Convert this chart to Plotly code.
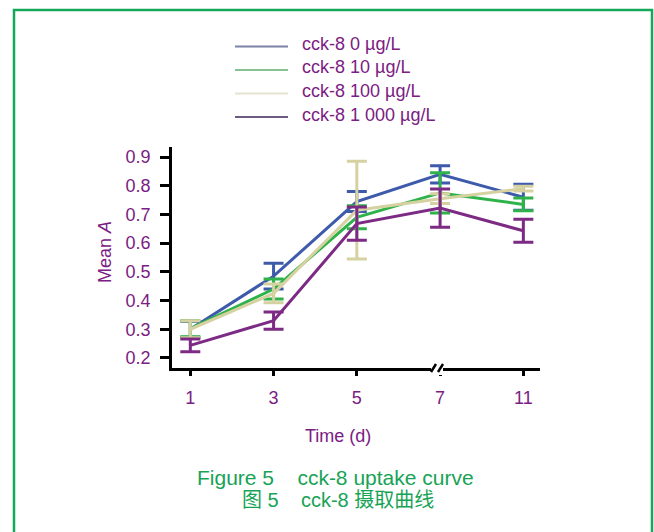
import plotly.graph_objects as go

# ---- data ----
days = ["1", "3", "5", "7", "11"]
series_names = ["cck-8 0 µg/L", "cck-8 10 µg/L", "cck-8 100 µg/L", "cck-8 1 000 µg/L"]
mean_0 = [0.300, 0.485, 0.745, 0.840, 0.760]
err_0 = [0.028, 0.045, 0.035, 0.030, 0.045]
mean_10 = [0.302, 0.440, 0.690, 0.775, 0.735]
err_10 = [0.028, 0.035, 0.040, 0.070, 0.022]
mean_100 = [0.300, 0.425, 0.715, 0.755, 0.790]
err_100 = [0.030, 0.033, 0.170, 0.017, 0.008]
mean_1000 = [0.244, 0.330, 0.668, 0.722, 0.643]
err_1000 = [0.022, 0.030, 0.058, 0.067, 0.040]
y_ticks = [0.2, 0.3, 0.4, 0.5, 0.6, 0.7, 0.8, 0.9]

means = [mean_0, mean_10, mean_100, mean_1000]
errs = [err_0, err_10, err_100, err_1000]
colors = ["#3d5aab", "#2fb24a", "#d6d1a0", "#7c2a84"]
legend_colors = ["#7d82a8", "#86c291", "#e6e3cf", "#6e5a7c"]

TXT = "#7b2082"
CAP = "#17a356"
FONT = "Liberation Sans, Arial, sans-serif"

W, H = 654, 532
L, R, T, B = 172, 540, 147, 368


def px_x(px):
    return (px - L) / (R - L)


def px_y(py):
    return (B - py) / (B - T)


fig = go.Figure()
for name, m, e, c in zip(series_names, means, errs, colors):
    fig.add_trace(go.Scatter(
        x=days, y=m, name=name, mode="lines",
        line=dict(color=c, width=3),
        error_y=dict(type="data", array=e, visible=True, color=c, thickness=3, width=10),
        showlegend=False,
    ))

shapes = []
annotations = []

# manual legend
leg_text_y = [44, 67.5, 91, 114.5]
for name, c, ty in zip(series_names, legend_colors, leg_text_y):
    shapes.append(dict(type="line", xref="paper", yref="paper",
                       x0=px_x(235), x1=px_x(288), y0=px_y(ty + 2.5), y1=px_y(ty + 2.5),
                       line=dict(color=c, width=2)))
    annotations.append(dict(text=name, xref="paper", yref="paper", x=px_x(300), y=px_y(ty),
                            xanchor="left", yanchor="middle", showarrow=False,
                            font=dict(size=18, color=TXT, family=FONT)))

# axis break on x axis near 7
shapes.append(dict(type="rect", xref="paper", yref="paper",
                   x0=px_x(431), x1=px_x(443), y0=px_y(375), y1=px_y(363),
                   fillcolor="white", line=dict(width=0), layer="above"))
for xs in (431, 438):
    shapes.append(dict(type="line", xref="paper", yref="paper",
                       x0=px_x(xs), x1=px_x(xs + 5), y0=px_y(372), y1=px_y(364),
                       line=dict(color="black", width=2.5), layer="above"))

# green frame
shapes.append(dict(type="path", xref="paper", yref="paper",
                   path=f"M {px_x(14)} {px_y(545)} L {px_x(14)} {px_y(10)} L {px_x(652)} {px_y(10)} L {px_x(652)} {px_y(545)}",
                   line=dict(color="#16a85a", width=2.5)))

# axis titles
annotations.append(dict(text="Mean <i>A</i>", xref="paper", yref="paper", x=px_x(105), y=px_y(252),
                        textangle=-90, showarrow=False, xanchor="center", yanchor="middle",
                        font=dict(size=18, color=TXT, family=FONT)))
annotations.append(dict(text="Time (d)", xref="paper", yref="paper", x=px_x(338), y=px_y(436),
                        showarrow=False, xanchor="center", yanchor="middle",
                        font=dict(size=18, color=TXT, family=FONT)))
# captions
nb = "\u00a0" * 4
annotations.append(dict(text=f"Figure 5{nb}cck-8 uptake curve", xref="paper", yref="paper",
                        x=px_x(335), y=px_y(477), showarrow=False, xanchor="center", yanchor="middle",
                        font=dict(size=21, color=CAP, family=FONT)))
annotations.append(dict(text=f"图 5{nb}cck-8 摄取曲线", xref="paper", yref="paper",
                        x=px_x(338), y=px_y(500), showarrow=False, xanchor="center", yanchor="middle",
                        font=dict(size=20, color=CAP, family="Liberation Sans, Noto Sans CJK SC, sans-serif")))

fig.update_layout(
    width=W, height=H,
    margin=dict(l=L, r=W - R, t=T, b=H - B, pad=0),
    paper_bgcolor="white", plot_bgcolor="white",
    shapes=shapes, annotations=annotations,
    font=dict(family=FONT, color=TXT, size=18),
    xaxis=dict(type="category", range=[-0.22, 4.2], showline=True, linecolor="black", linewidth=2.5,
               ticks="outside", ticklen=5, tickwidth=2.5, tickcolor="black", showgrid=False,
               zeroline=False, tickfont=dict(size=18, color=TXT), ticklabelstandoff=7),
    yaxis=dict(range=[0.165, 0.935], tickvals=y_ticks, ticktext=[f"{v:.1f}" for v in y_ticks],
               showline=True, linecolor="black", linewidth=2.5,
               ticks="outside", ticklen=9, tickwidth=2.5, tickcolor="black", showgrid=False,
               zeroline=False, tickfont=dict(size=18, color=TXT), ticklabelstandoff=6),
)

fig.write_html("out.html", config={"displayModeBar": False},
               post_script="document.body.style.margin='0';")
